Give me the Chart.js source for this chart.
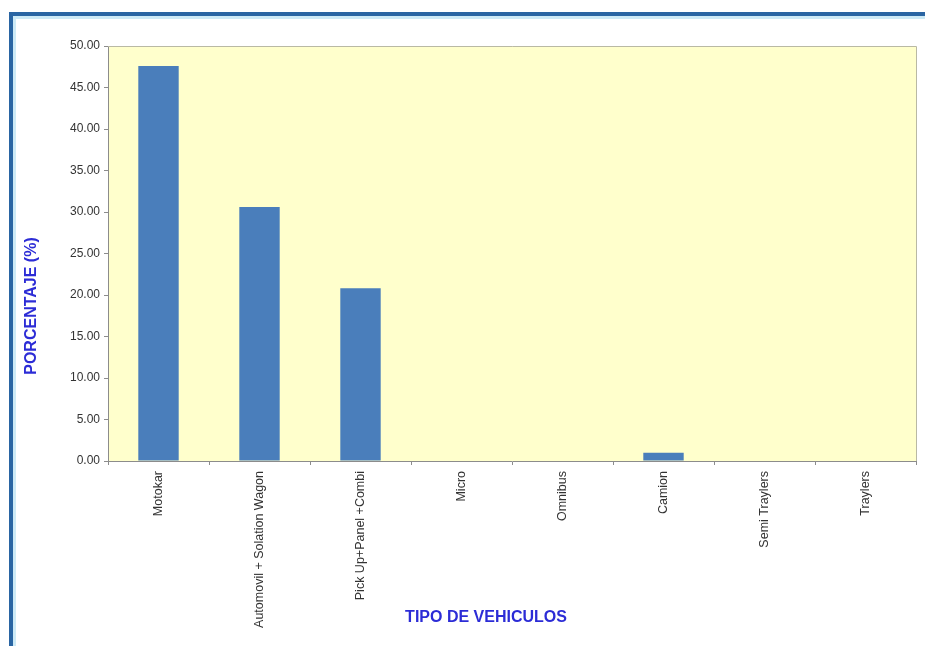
<!DOCTYPE html>
<html>
<head>
<meta charset="utf-8">
<script src="https://cdn.jsdelivr.net/npm/chart.js@4.4.1/dist/chart.umd.min.js"></script>
<style>
  html, body { margin: 0; padding: 0; background: #ffffff; }
  #wrap { width: 925px; height: 646px; }
</style>
</head>
<body>
<div id="wrap"><canvas id="myChart" width="925" height="646"></canvas></div>
<script>
const categories = [
  "Motokar",
  "Automovil + Solation Wagon",
  "Pick Up+Panel +Combi",
  "Micro",
  "Omnibus",
  "Camion",
  "Semi Traylers",
  "Traylers",
];
const porcentaje = [47.6, 30.6, 20.8, 0, 0, 1.0, 0, 0];
const yTicks = [0, 5, 10, 15, 20, 25, 30, 35, 40, 45, 50];

const yTitle = "PORCENTAJE (%)";
const xTitle = "TIPO DE VEHICULOS";

const FONT = "'Liberation Sans', Arial, sans-serif";

// page frame, plot background and the two axis titles
const decor = {
  id: "decor",
  beforeDraw(chart) {
    const { ctx, chartArea: a } = chart;
    ctx.save();
    ctx.fillStyle = "#ffffff";
    ctx.fillRect(0, 0, chart.width, chart.height);

    // blue frame around the sheet (left and top edges visible)
    ctx.fillStyle = "#cdeaf6";
    ctx.fillRect(13, 16, 3, chart.height);
    ctx.fillRect(13, 16, chart.width, 3);
    ctx.fillStyle = "#2a65a3";
    ctx.fillRect(9, 12, 4, chart.height);
    ctx.fillRect(9, 12, chart.width, 4);

    ctx.fillStyle = "#ffffcc";
    ctx.fillRect(a.left, a.top, a.right - a.left, a.bottom - a.top);
    ctx.restore();
  },
  afterDraw(chart) {
    const { ctx, chartArea: a } = chart;
    ctx.save();
    ctx.strokeStyle = "#b9b9a4";
    ctx.lineWidth = 1;
    ctx.beginPath();
    ctx.moveTo(a.left, a.top + 0.5);
    ctx.lineTo(a.right + 0.5, a.top + 0.5);
    ctx.lineTo(a.right + 0.5, a.bottom);
    ctx.stroke();

    ctx.fillStyle = "#2c2cd6";
    ctx.font = "bold 16px " + FONT;
    ctx.textAlign = "center";
    ctx.textBaseline = "middle";
    ctx.fillText(xTitle, 486, 618);

    ctx.translate(32, 306);
    ctx.rotate(-Math.PI / 2);
    ctx.fillText(yTitle, 0, 0);
    ctx.restore();
  },
};

const config = {
  type: "bar",
  data: {
    labels: categories,
    datasets: [
      {
        label: "Porcentaje",
        data: porcentaje,
        backgroundColor: "#4a7ebb",
        borderWidth: 0,
        categoryPercentage: 1,
        barPercentage: 0.4,
      },
    ],
  },
  options: {
    responsive: false,
    animation: false,
    events: [],
    layout: { padding: { top: 46, right: 9, left: 0, bottom: 0 } },
    plugins: {
      legend: { display: false },
      tooltip: { enabled: false },
    },
    scales: {
      x: {
        afterFit: (s) => { s.height = 185; },
        grid: {
          offset: true,
          drawOnChartArea: false,
          tickLength: 4,
          color: "#8c8c8c",
        },
        border: { display: true, color: "#8c8c8c" },
        ticks: {
          autoSkip: false,
          minRotation: 90,
          maxRotation: 90,
          padding: 6,
          color: "#333333",
          font: { family: FONT, size: 12.5 },
        },
      },
      y: {
        min: 0,
        max: 50,
        afterFit: (s) => { s.width = 108; },
        afterBuildTicks: (s) => { s.ticks = yTicks.map((v) => ({ value: v })); },
        grid: {
          drawOnChartArea: false,
          tickLength: 4,
          color: "#8c8c8c",
        },
        border: { display: true, color: "#8c8c8c" },
        ticks: {
          padding: 4,
          color: "#333333",
          font: { family: FONT, size: 12 },
          callback: (v) => Number(v).toFixed(2),
        },
      },
    },
  },
  plugins: [decor],
};

const myChart = new Chart(document.getElementById("myChart").getContext("2d"), config);
</script>
</body>
</html>
